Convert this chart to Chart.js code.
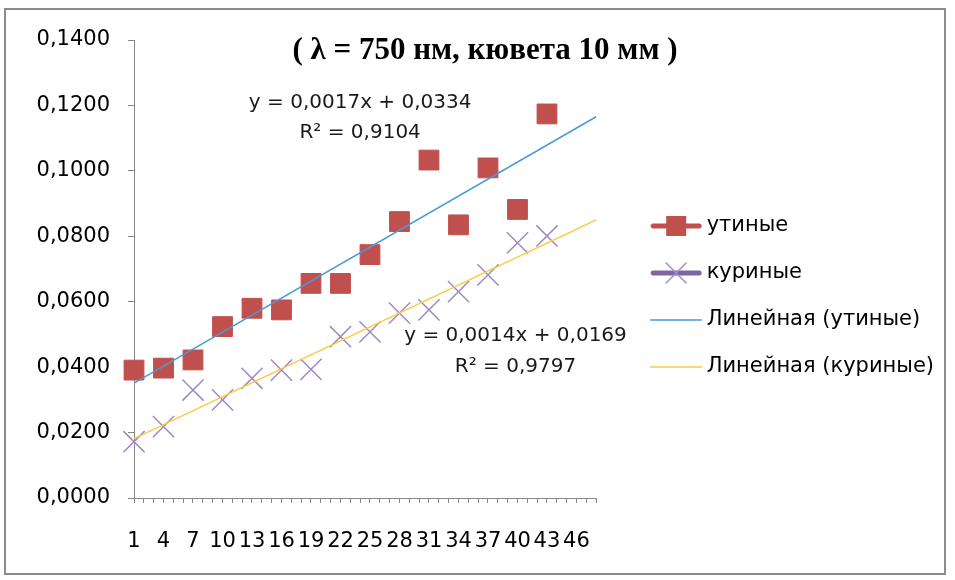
<!DOCTYPE html>
<html lang="ru">
<head>
    <meta charset="UTF-8">
    <title>λ = 750 нм, кювета 10 мм</title>
    <script src="https://cdn.jsdelivr.net/npm/chart.js"></script>
    <style>
        html, body { margin: 0; padding: 0; background: #fff; }
        #wrap { position: relative; width: 955px; height: 580px; }
        #frame { position: absolute; left: 4px; top: 8px; width: 942px; height: 567px; border: 2px solid #8c8c8c; box-sizing: border-box; }
        #chart { position: absolute; left: 0; top: 0; }
    </style>
</head>
<body>
<div id="wrap">
    <div id="frame"></div>
    <canvas id="chart" width="955" height="580"></canvas>
</div>
<script>
    // categories on the x axis (every one gets a tick, every 3rd a label)
    const categories = ['1','2','3','4','5','6','7','8','9','10','11','12','13','14','15','16',
        '17','18','19','20','21','22','23','24','25','26','27','28','29','30','31','32',
        '33','34','35','36','37','38','39','40','41','42','43','44','45','46','47','48'];
    // categories where measurements were taken
    const sampleDays = [1, 4, 7, 10, 13, 16, 19, 22, 25, 28, 31, 34, 37, 40, 43];
    // утиные
    const duckValues = [0.0391, 0.0397, 0.0422, 0.0524, 0.0580, 0.0575, 0.0656, 0.0656,
        0.0744, 0.0845, 0.1033, 0.0835, 0.1009, 0.0882, 0.1174];
    // куриные
    const chickenValues = [0.0172, 0.0218, 0.0330, 0.0300, 0.0366, 0.0391, 0.0393, 0.0493,
        0.0508, 0.0565, 0.0575, 0.0631, 0.0682, 0.0780, 0.0801];
    const seriesNames = ['утиные', 'куриные', 'Линейная (утиные)', 'Линейная (куриные)'];
    const duckEquation = ['y = 0,0017x + 0,0334', 'R² = 0,9104'];
    const chickenEquation = ['y = 0,0014x + 0,0169', 'R² = 0,9797'];
    const titleText = '( λ = 750 нм, кювета 10 мм )';

    const FONT = "'DejaVu Sans', sans-serif";
    const duckColor = '#C0504D';
    const chickenColor = '#9D89C4';
    const chickenLegendLine = '#8064A2';
    const duckTrendColor = '#4A9AD8';
    const chickenTrendColor = '#FFC83D';

    // least squares line through the measured points (same as Excel trendline)
    function linearFit(xs, ys) {
        const n = xs.length;
        const mx = xs.reduce((a, b) => a + b, 0) / n;
        const my = ys.reduce((a, b) => a + b, 0) / n;
        let sxy = 0, sxx = 0;
        for (let i = 0; i < n; i++) {
            sxy += (xs[i] - mx) * (ys[i] - my);
            sxx += (xs[i] - mx) * (xs[i] - mx);
        }
        const slope = sxy / sxx;
        return { slope: slope, intercept: my - slope * mx };
    }

    function trendPoints(fit) {
        const first = Number(categories[0]);
        const last = Number(categories[categories.length - 1]);
        return [
            { x: categories[0], y: fit.intercept + fit.slope * first },
            { x: categories[categories.length - 1], y: fit.intercept + fit.slope * last }
        ];
    }

    const duckFit = linearFit(sampleDays, duckValues);
    const chickenFit = linearFit(sampleDays, chickenValues);

    // small pictures for the legend (line + marker like Excel)
    function legendIcon(kind) {
        const c = document.createElement('canvas');
        c.width = 86; c.height = 24;
        const g = c.getContext('2d');
        const x0 = 34, x1 = 86, cx = 60, cy = 12;
        g.lineCap = 'round';
        if (kind === 'duck' || kind === 'chicken') {
            g.strokeStyle = kind === 'duck' ? duckColor : chickenLegendLine;
            g.lineWidth = 5;
            g.beginPath(); g.moveTo(x0 + 3, cy); g.lineTo(x1 - 3, cy); g.stroke();
            if (kind === 'duck') {
                g.fillStyle = duckColor;
                g.fillRect(cx - 10, cy - 10, 20, 20);
            } else {
                g.strokeStyle = chickenColor;
                g.lineWidth = 1.5;
                g.beginPath();
                g.moveTo(cx - 10, cy - 10); g.lineTo(cx + 10, cy + 10);
                g.moveTo(cx - 10, cy + 10); g.lineTo(cx + 10, cy - 10);
                g.stroke();
            }
        } else {
            g.strokeStyle = kind === 'duckTrend' ? duckTrendColor : chickenTrendColor;
            g.lineWidth = 1.5;
            g.lineCap = 'butt';
            g.beginPath(); g.moveTo(x0, cy); g.lineTo(x1, cy); g.stroke();
        }
        return c;
    }
    const legendIcons = [legendIcon('duck'), legendIcon('chicken'), legendIcon('duckTrend'), legendIcon('chickenTrend')];

    // title and trendline equations
    const textPlugin = {
        id: 'chartTexts',
        afterDraw(chart) {
            const ctx = chart.ctx;
            const xs = chart.scales.x, ys = chart.scales.y;
            ctx.save();
            ctx.fillStyle = '#000';
            ctx.textAlign = 'center';
            ctx.textBaseline = 'middle';
            ctx.font = "bold 31px 'Liberation Serif', 'Times New Roman', serif";
            ctx.fillText(titleText, 485, 51);
            ctx.font = '20px ' + FONT;
            ctx.fillStyle = '#1a1a1a';
            ctx.fillText(duckEquation[0], xs.getPixelForValue(23), ys.getPixelForValue(0.1208));
            ctx.fillText(duckEquation[1], xs.getPixelForValue(23), ys.getPixelForValue(0.1116));
            ctx.fillText(chickenEquation[0], xs.getPixelForValue(38.8), ys.getPixelForValue(0.0497));
            ctx.fillText(chickenEquation[1], xs.getPixelForValue(38.8), ys.getPixelForValue(0.0400));
            ctx.restore();
        }
    };

    const ctx = document.getElementById('chart').getContext('2d');
    new Chart(ctx, {
        type: 'line',
        data: {
            labels: categories,
            datasets: [{
                label: seriesNames[0],
                data: sampleDays.map((d, i) => ({ x: String(d), y: duckValues[i] })),
                showLine: false,
                pointStyle: 'rect',
                pointRadius: 14,
                backgroundColor: duckColor,
                borderColor: duckColor,
                borderWidth: 1,
                order: 1
            }, {
                label: seriesNames[1],
                data: sampleDays.map((d, i) => ({ x: String(d), y: chickenValues[i] })),
                showLine: false,
                pointStyle: 'crossRot',
                pointRadius: 15,
                borderColor: chickenColor,
                backgroundColor: chickenColor,
                borderWidth: 1.5,
                order: 2
            }, {
                label: seriesNames[2],
                data: trendPoints(duckFit),
                borderColor: duckTrendColor,
                borderWidth: 1.5,
                pointRadius: 0,
                order: 0
            }, {
                label: seriesNames[3],
                data: trendPoints(chickenFit),
                borderColor: chickenTrendColor,
                borderWidth: 1.5,
                pointRadius: 0,
                order: 0
            }]
        },
        options: {
            responsive: false,
            animation: false,
            layout: { padding: { left: 10, top: 40, right: 11, bottom: 27 } },
            scales: {
                x: {
                    offset: false,
                    afterFit: s => { s.height = 55; },
                    border: { color: '#868686', width: 1 },
                    grid: { drawOnChartArea: false, drawTicks: true, tickLength: 5, color: '#868686' },
                    ticks: {
                        autoSkip: false,
                        maxRotation: 0,
                        padding: 26,
                        color: '#000',
                        font: { family: FONT, size: 21 },
                        callback: (v, i) => (i % 3 === 0 ? categories[i] : '')
                    }
                },
                y: {
                    min: 0,
                    max: 0.14,
                    afterFit: s => { s.width = 124; },
                    border: { color: '#868686', width: 1 },
                    grid: { drawOnChartArea: false, drawTicks: true, tickLength: 6, color: '#868686' },
                    ticks: {
                        stepSize: 0.02,
                        padding: 18,
                        color: '#000',
                        font: { family: FONT, size: 21 },
                        callback: v => v.toFixed(4).replace('.', ',')
                    }
                }
            },
            plugins: {
                title: { display: false },
                tooltip: { enabled: false },
                legend: {
                    position: 'right',
                    maxWidth: 420,
                    labels: {
                        usePointStyle: true,
                        pointStyleWidth: 74,
                        padding: 26,
                        color: '#000',
                        font: { family: FONT, size: 21 },
                        generateLabels: chart => chart.data.datasets.map((ds, i) => ({
                            text: ds.label,
                            pointStyle: legendIcons[i],
                            datasetIndex: i,
                            fillStyle: 'transparent',
                            strokeStyle: 'transparent',
                            lineWidth: 0,
                            hidden: false,
                            fontColor: '#000'
                        }))
                    }
                }
            }
        },
        plugins: [textPlugin]
    });
</script>
</body>
</html>
